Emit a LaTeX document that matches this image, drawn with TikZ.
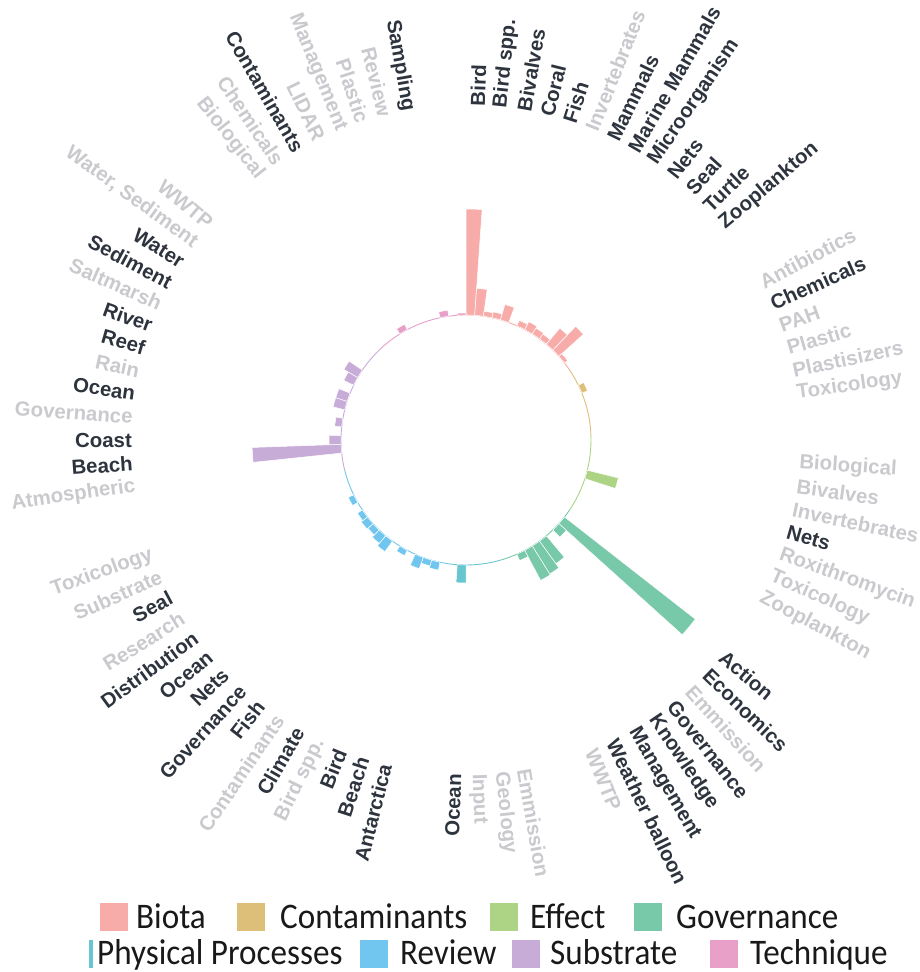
\documentclass[tikz,border=0pt]{standalone}
\usepackage{fontspec}
\setmainfont{Liberation Sans}
\newfontfamily\legfont{Carlito}
\definecolor{cBio}{RGB}{247,172,170}
\definecolor{cCon}{RGB}{221,191,122}
\definecolor{cEff}{RGB}{172,212,132}
\definecolor{cGov}{RGB}{120,200,170}
\definecolor{cPhy}{RGB}{104,198,208}
\definecolor{cRev}{RGB}{112,198,238}
\definecolor{cSub}{RGB}{200,172,216}
\definecolor{cTec}{RGB}{232,160,200}
\definecolor{labD}{RGB}{46,52,62}
\definecolor{labL}{RGB}{201,201,206}
\newcounter{labc}
\tikzset{
  lbl/.style={font=\bfseries\fontsize{20.4}{24}\selectfont, inner sep=0pt},
  legtext/.style={font=\legfont\fontsize{36}{40}\selectfont, text=black!90, inner sep=0pt, anchor=base west},
  legbox/.style={minimum width=28pt, minimum height=28pt, inner sep=0pt, anchor=south west}
}
\newcommand\clab[3]{%
  \stepcounter{labc}%
  \pgfmathsetmacro\labang{90-#1}%
  \ifdim #1pt<180pt
    \node[lbl, text=#3, anchor=west, rotate=\labang] (lab\arabic{labc}) at (\labang:334) {#2};%
  \else
    \node[lbl, text=#3, anchor=east, rotate=\labang+180] (lab\arabic{labc}) at (\labang:334) {#2};%
  \fi}
\newcommand\cbar[3]{%
  \pgfmathsetmacro\baa{92-#1}%
  \pgfmathsetmacro\bab{88-#1}%
  \pgfmathsetmacro\bro{125+#2}%
  \fill[#3, draw=white, line width=0.5pt] (\baa:125) arc[start angle=\baa, end angle=\bab, radius=125] -- (\bab:\bro) arc[start angle=\bab, end angle=\baa, radius=\bro] -- cycle;}
\newcommand\carc[3]{%
  \pgfmathsetmacro\caa{90-#1}\pgfmathsetmacro\cab{90-#2}%
  \draw[#3, line width=0.9pt] (\caa:125) arc[start angle=\caa, end angle=\cab, radius=125];}
\newcommand\legt[1]{\scalebox{0.92}[1]{#1}}
\begin{document}
\begin{tikzpicture}[x=1pt,y=1pt]
\useasboundingbox (0,0) rectangle (919,972);
\begin{scope}[shift={(466,532)}]
% inner ring
\carc{-4}{56}{cBio}
\carc{56}{88}{cCon}
\carc{88}{124}{cEff}
\carc{124}{164}{cGov}
\carc{164}{188}{cPhy}
\carc{188}{256}{cRev}
\carc{256}{316}{cSub}
\carc{316}{356}{cTec}
% bars: Biota
\cbar{2}{106}{cBio}
\cbar{6}{27}{cBio}
\cbar{10}{5}{cBio}
\cbar{14}{6}{cBio}
\cbar{18}{16}{cBio}
\cbar{26}{6}{cBio}
\cbar{30}{9}{cBio}
\cbar{34}{7}{cBio}
\cbar{38}{6}{cBio}
\cbar{42}{21}{cBio}
\cbar{46}{33}{cBio}
\cbar{50}{4}{cBio}
% Contaminants
\cbar{66}{6}{cCon}
% Effect
\cbar{106}{32}{cEff}
% Governance
\cbar{130}{166}{cGov}
\cbar{134}{10}{cGov}
\cbar{142}{28}{cGov}
\cbar{146}{33}{cGov}
\cbar{150}{34}{cGov}
\cbar{154}{7}{cGov}
% Physical processes
\cbar{182}{18}{cPhy}
% Review
\cbar{194}{8}{cRev}
\cbar{198}{6}{cRev}
\cbar{202}{12}{cRev}
\cbar{210}{6}{cRev}
\cbar{218}{13}{cRev}
\cbar{222}{10}{cRev}
\cbar{226}{7}{cRev}
\cbar{230}{8}{cRev}
\cbar{234}{6}{cRev}
\cbar{242}{6}{cRev}
% Substrate
\cbar{266}{89}{cSub}
\cbar{270}{12}{cSub}
\cbar{278}{7}{cSub}
\cbar{286}{12}{cSub}
\cbar{290}{12}{cSub}
\cbar{298}{11}{cSub}
\cbar{302}{16}{cSub}
% Technique
\cbar{330}{6}{cTec}
\cbar{350}{6}{cTec}
\cbar{358}{2}{cTec}
% labels: Biota
\clab{2}{Bird}{labD}
\clab{6}{Bird spp.}{labD}
\clab{10}{Bivalves}{labD}
\clab{14}{Coral}{labD}
\clab{18}{Fish}{labD}
\clab{22}{Invertebrates}{labL}
\clab{26}{Mammals}{labD}
\clab{30}{Marine Mammals}{labD}
\clab{34}{Microorganism}{labD}
\clab{38}{Nets}{labD}
\clab{42}{Seal}{labD}
\clab{46}{Turtle}{labD}
\clab{50}{Zooplankton}{labD}
% Contaminants
\clab{62}{Antibiotics}{labL}
\clab{66}{Chemicals}{labD}
\clab{70}{PAH}{labL}
\clab{74}{Plastic}{labL}
\clab{78}{Plastisizers}{labL}
\clab{82}{Toxicology}{labL}
% Effect
\clab{94}{Biological}{labL}
\clab{98}{Bivalves}{labL}
\clab{102}{Invertebrates}{labL}
\clab{106}{Nets}{labD}
\clab{110}{Roxithromycin}{labL}
\clab{114}{Toxicology}{labL}
\clab{118}{Zooplankton}{labL}
% Governance
\clab{130}{Action}{labD}
\clab{134}{Economics}{labD}
\clab{138}{Emmission}{labL}
\clab{142}{Governance}{labD}
\clab{146}{Knowledge}{labD}
\clab{150}{Management}{labD}
\clab{154}{Weather balloon}{labD}
\clab{158}{WWTP}{labL}
% Physical processes
\clab{170}{Emmission}{labL}
\clab{174}{Geology}{labL}
\clab{178}{Input}{labL}
\clab{182}{Ocean}{labD}
% Review
\clab{194}{Antarctica}{labD}
\clab{198}{Beach}{labD}
\clab{202}{Bird}{labD}
\clab{206}{Bird spp.}{labL}
\clab{210}{Climate}{labD}
\clab{214}{Contaminants}{labL}
\clab{218}{Fish}{labD}
\clab{222}{Governance}{labD}
\clab{226}{Nets}{labD}
\clab{230}{Ocean}{labD}
\clab{234}{Distribution}{labD}
\clab{238}{Research}{labL}
\clab{242}{Seal}{labD}
\clab{246}{Substrate}{labL}
\clab{250}{Toxicology}{labL}
% Substrate
\clab{262}{Atmospheric}{labL}
\clab{266}{Beach}{labD}
\clab{270}{Coast}{labD}
\clab{274}{Governance}{labL}
\clab{278}{Ocean}{labD}
\clab{282}{Rain}{labL}
\clab{286}{Reef}{labD}
\clab{290}{River}{labD}
\clab{294}{Saltmarsh}{labL}
\clab{298}{Sediment}{labD}
\clab{302}{Water}{labD}
\clab{306}{Water, Sediment}{labL}
\clab{310}{WWTP}{labL}
% Technique
\clab{322}{Biological}{labL}
\clab{326}{Chemicals}{labL}
\clab{330}{Contaminants}{labD}
\clab{334}{LIDAR}{labL}
\clab{338}{Management}{labL}
\clab{342}{Plastic}{labL}
\clab{346}{Review}{labL}
\clab{350}{Sampling}{labD}
\end{scope}
% legend row 1
\node[legbox, fill=cBio] (kBio) at (100,41) {};
\node[legtext] (tBio) at (136,43) {\legt{Biota}};
\node[legbox, fill=cCon] (kCon) at (237,41) {};
\node[legtext] (tCon) at (280,43) {\legt{Contaminants}};
\node[legbox, fill=cEff] (kEff) at (490,41) {};
\node[legtext] (tEff) at (530,43) {\legt{Effect}};
\node[legbox, fill=cGov] (kGov) at (634,41) {};
\node[legtext] (tGov) at (676,43) {\legt{Governance}};
% legend row 2
\node[legbox, fill=cPhy, minimum width=4pt] (kPhy) at (89,4) {};
\node[legtext] (tPhy) at (97,8) {\legt{Physical Processes}};
\node[legbox, fill=cRev] (kRev) at (360,4) {};
\node[legtext] (tRev) at (400,8) {\legt{Review}};
\node[legbox, fill=cSub] (kSub) at (512,4) {};
\node[legtext] (tSub) at (550,8) {\legt{Substrate}};
\node[legbox, fill=cTec] (kTec) at (710,4) {};
\node[legtext] (tTec) at (750,8) {\legt{Technique}};
\end{tikzpicture}
\end{document}
